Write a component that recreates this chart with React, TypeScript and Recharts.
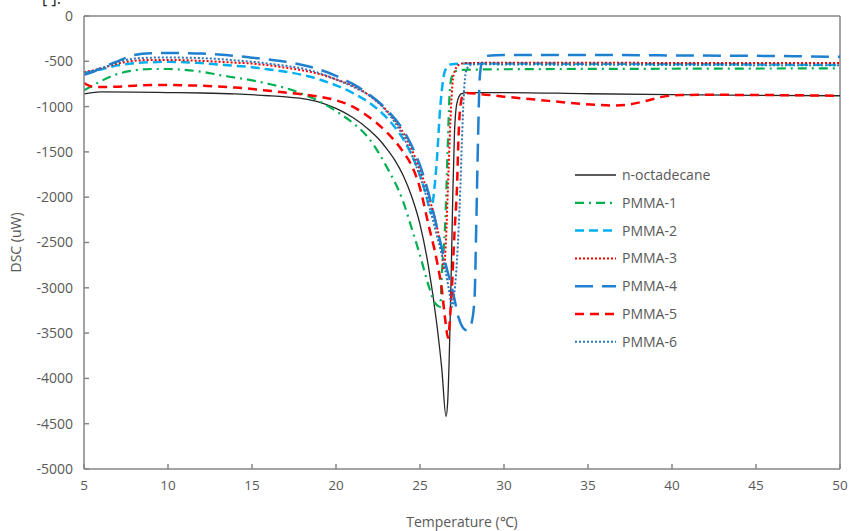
import { LineChart, Line, XAxis, YAxis, ReferenceLine } from "recharts";

// axis ticks
const xTicks = [5, 10, 15, 20, 25, 30, 35, 40, 45, 50];
const yTicks = [0, -500, -1000, -1500, -2000, -2500, -3000, -3500, -4000, -4500, -5000];

// n-octadecane
const octadecaneT = [5, 5.5, 6, 8, 10, 12, 14, 16, 17, 18, 19, 20, 21, 22, 22.5, 23, 23.5, 24, 24.5, 25, 25.5, 26, 26.3, 26.55, 26.65, 26.75, 26.85, 26.95, 27.05, 27.2, 27.45, 27.8, 30, 35, 40, 45, 50];
const octadecaneDSC = [-860, -845, -838, -840, -845, -850, -860, -880, -893, -912, -950, -1020, -1120, -1260, -1350, -1460, -1590, -1760, -1990, -2300, -2760, -3400, -3900, -4420, -4250, -3700, -2900, -2000, -1300, -960, -860, -845, -845, -858, -868, -876, -880];

// PMMA-1
const pmma1T = [5, 5.5, 6, 7, 8, 9, 10, 11, 12, 13, 14, 15, 16, 17, 18, 19, 20, 21, 22, 23, 24, 24.5, 25, 25.5, 25.9, 26.2, 26.3, 26.5, 26.65, 26.75, 26.85, 27.1, 27.5, 30, 40, 50];
const pmma1DSC = [-820, -770, -720, -640, -600, -585, -585, -595, -615, -650, -680, -710, -750, -795, -860, -940, -1050, -1180, -1360, -1660, -2050, -2340, -2640, -2970, -3170, -3210, -2850, -2280, -1450, -900, -700, -610, -595, -588, -582, -578];

// PMMA-2
const pmma2T = [5, 5.5, 6, 7, 8, 9, 10, 11, 12, 13, 14, 15, 16, 17, 18, 19, 20, 21, 22, 23, 24, 24.5, 25, 25.4, 25.65, 25.8, 26, 26.2, 26.5, 26.8, 27.5, 30, 40, 50];
const pmma2DSC = [-630, -610, -590, -545, -520, -510, -505, -510, -520, -535, -550, -565, -590, -615, -650, -700, -765, -850, -960, -1120, -1360, -1530, -1760, -2000, -2180, -2000, -1600, -1020, -600, -535, -525, -525, -530, -540];

// PMMA-3
const pmma3T = [5, 6, 7, 8, 9, 10, 12, 13, 14, 15, 16, 17, 18, 19, 20, 21, 22, 23, 24, 24.5, 25, 25.5, 26, 26.3, 26.42, 26.55, 26.7, 26.85, 27, 27.3, 27.7, 30, 40, 50];
const pmma3DSC = [-620, -580, -525, -495, -485, -485, -495, -505, -515, -525, -545, -570, -600, -640, -700, -770, -880, -1040, -1290, -1470, -1700, -1980, -2320, -2620, -2800, -2450, -1700, -1000, -650, -540, -520, -515, -518, -520];

// PMMA-4
const pmma4T = [5, 5.5, 6, 7, 8, 9, 10, 11, 12, 13, 14, 15, 16, 17, 18, 19, 20, 21, 22, 23, 24, 24.5, 25, 25.5, 26, 26.5, 27, 27.3, 27.6, 27.8, 28.05, 28.25, 28.35, 28.45, 28.55, 28.7, 29, 29.5, 35, 40, 45, 50];
const pmma4DSC = [-650, -620, -575, -500, -430, -410, -408, -410, -415, -425, -440, -460, -480, -505, -540, -590, -660, -750, -870, -1030, -1260, -1430, -1650, -1950, -2330, -2720, -3080, -3330, -3450, -3470, -3400, -3100, -2300, -1400, -700, -500, -440, -432, -430, -435, -440, -450];

// PMMA-5
const pmma5T = [5, 5.5, 6, 7, 8, 9, 10, 11, 12, 13, 14, 15, 16, 17, 18, 19, 20, 21, 22, 23, 24, 24.5, 25, 25.5, 26, 26.3, 26.5, 26.67, 26.8, 26.9, 27.05, 27.2, 27.3, 27.4, 27.55, 27.8, 28.5, 30, 32, 34, 35.5, 36.5, 37.5, 38.5, 39.5, 40.5, 42, 45, 50];
const pmma5DSC = [-740, -780, -785, -780, -770, -762, -762, -765, -770, -778, -790, -805, -825, -845, -865, -890, -930, -1000, -1120, -1280, -1500, -1650, -1900, -2300, -2700, -3020, -3350, -3550, -3300, -3000, -2400, -1900, -1300, -1000, -880, -850, -860, -890, -925, -960, -980, -988, -975, -935, -890, -872, -870, -872, -880];

// PMMA-6
const pmma6T = [5, 6, 7, 8, 9, 10, 12, 13, 14, 15, 16, 17, 18, 19, 20, 21, 22, 23, 24, 24.5, 25, 25.5, 26, 26.5, 26.75, 26.9, 27.05, 27.2, 27.4, 27.5, 27.6, 27.75, 28, 28.5, 30, 40, 50];
const pmma6DSC = [-630, -580, -510, -470, -460, -458, -465, -475, -490, -505, -525, -550, -580, -630, -700, -780, -880, -1050, -1330, -1530, -1770, -2070, -2420, -2800, -3050, -3210, -3050, -2700, -1900, -1350, -900, -600, -540, -532, -535, -540, -545];

const toPoints = (t: number[], dsc: number[]) => t.map((x, i) => ({ t: x, dsc: dsc[i] }));

const series = [
  { name: "n-octadecane", data: toPoints(octadecaneT, octadecaneDSC), color: "#262626", width: 1.3, dash: undefined },
  { name: "PMMA-1", data: toPoints(pmma1T, pmma1DSC), color: "#00B050", width: 2.2, dash: "9 5 2 5" },
  { name: "PMMA-2", data: toPoints(pmma2T, pmma2DSC), color: "#00B0F0", width: 2.5, dash: "9 5" },
  { name: "PMMA-3", data: toPoints(pmma3T, pmma3DSC), color: "#FF0000", width: 2, dash: "2 2" },
  { name: "PMMA-4", data: toPoints(pmma4T, pmma4DSC), color: "#1F80D0", width: 2.5, dash: "18 9" },
  { name: "PMMA-5", data: toPoints(pmma5T, pmma5DSC), color: "#FF0000", width: 2.5, dash: "9 6" },
  { name: "PMMA-6", data: toPoints(pmma6T, pmma6DSC), color: "#2E75B6", width: 2, dash: "2 2" },
];

const textColor = "#595959";
const axisColor = "#868686";
const font = "'Open Sans', sans-serif";

// legend drawn on top of the plot, like the Excel original
function LegendBox() {
  return (
    <svg width={140} height={200} style={{ position: "absolute", left: 570, top: 165 }}>
      {series.map((s, i) => (
        <g key={s.name} transform={`translate(0, ${i * 27.8})`}>
          <line x1={5} x2={46} y1={10} y2={10} stroke={s.color} strokeWidth={s.width} strokeDasharray={s.dash} />
          <text x={52} y={15} fontSize={14} fill={textColor} fontFamily={font}>
            {s.name}
          </text>
        </g>
      ))}
    </svg>
  );
}

export default function App() {
  return (
    <div style={{ position: "absolute", left: 0, top: 0, width: 850, height: 531, background: "#fff", overflow: "hidden", fontFamily: font }}>
      <div style={{ position: "absolute", left: 42, top: -13, fontSize: 16, color: "#222" }}>[ ].</div>
      <LineChart width={850} height={531} margin={{ top: 16, right: 10, bottom: 0, left: 0 }}>
        <XAxis
          dataKey="t"
          type="number"
          domain={[5, 50]}
          ticks={xTicks}
          allowDataOverflow
          height={62}
          stroke={axisColor}
          strokeWidth={1.5}
          tickSize={-5}
          tickMargin={16}
          tick={{ fill: textColor, fontSize: 13.5, fontFamily: font }}
          label={{ value: "Temperature (℃)", position: "insideBottom", offset: 4, fill: textColor, fontSize: 14, fontFamily: font }}
        />
        <YAxis
          type="number"
          domain={[-5000, 0]}
          ticks={yTicks}
          allowDataOverflow
          width={84}
          stroke={axisColor}
          strokeWidth={1.5}
          tickSize={-5}
          tickMargin={16}
          tick={{ fill: textColor, fontSize: 14, fontFamily: font }}
          label={{ value: "DSC (uW)", angle: -90, position: "insideLeft", offset: 16, fill: textColor, fontSize: 14, fontFamily: font, style: { textAnchor: "middle" } }}
        />
        <ReferenceLine y={0} stroke={axisColor} strokeWidth={1.5} />
        <ReferenceLine x={50} stroke={axisColor} strokeWidth={1.5} />
        {series.map((s) => (
          <Line
            key={s.name}
            data={s.data}
            dataKey="dsc"
            name={s.name}
            type="monotone"
            stroke={s.color}
            strokeWidth={s.width}
            strokeDasharray={s.dash}
            dot={false}
            activeDot={false}
            isAnimationActive={false}
          />
        ))}
      </LineChart>
      <LegendBox />
    </div>
  );
}
